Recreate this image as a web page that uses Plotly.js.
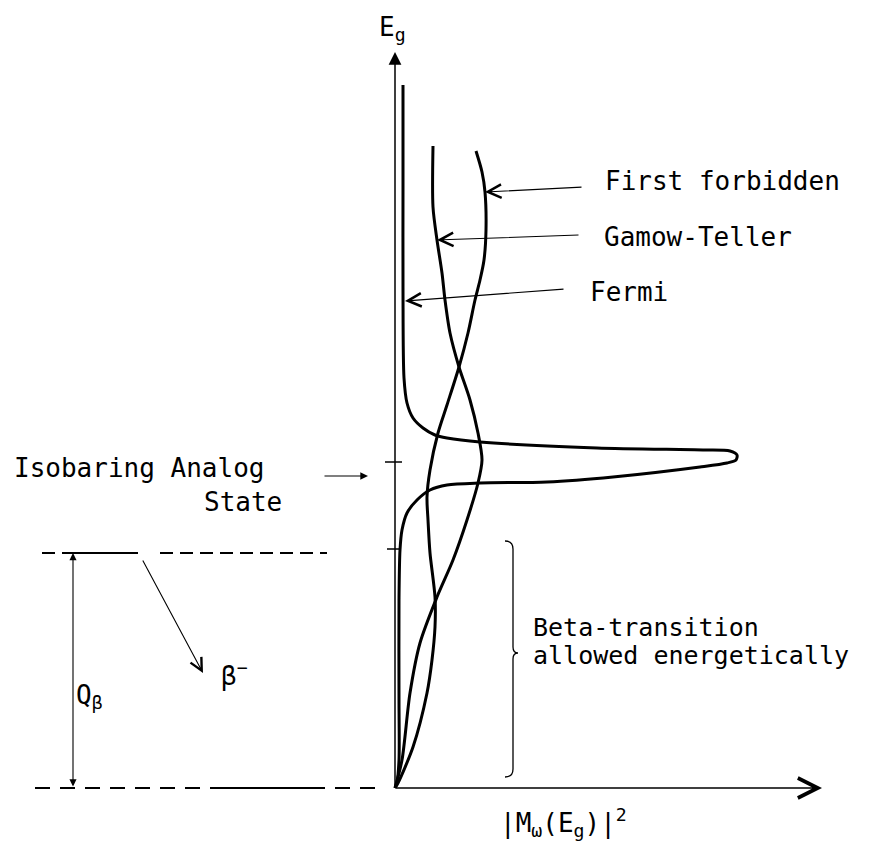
<!DOCTYPE html>
<html>
<head>
<meta charset="utf-8">
<script src="https://cdn.plot.ly/plotly-3.0.1.min.js"></script>
<style>
  html, body { margin: 0; padding: 0; background: #ffffff; }
  #chart { width: 877px; height: 841px; }
</style>
</head>
<body>
<div id="chart"></div>
<script>
// Schematic strength distributions |M(Eg)|^2 versus excitation energy Eg
// (arbitrary units; horizontal = strength, vertical = energy).

// Fermi strength: narrow spike at the isobaric analog state
const fermiM  = [8, 8, 8, 9, 12, 18, 28, 40, 52, 85, 202, 308, 335, 342, 341, 332, 305, 218, 152, 85, 52, 35, 22, 12, 7, 5, 4, 4, 4, 2, 0];
const fermiEg = [703, 600, 500, 410, 385, 370, 360, 353, 350, 346, 340, 338, 337, 333, 328, 325, 321, 311, 306, 305, 303, 298, 288, 275, 258, 238, 188, 88, 28, 6, 0];

// Gamow-Teller strength
const gtM  = [38, 38, 42, 47, 50, 55, 64, 75, 83, 87, 83, 72, 58, 42, 25, 15, 7, 0];
const gtEg = [642, 581, 548, 515, 488, 455, 421, 388, 355, 328, 305, 268, 228, 191, 145, 95, 28, 0];

// First forbidden strength
const ffM  = [81, 87, 90, 91, 89, 85, 80, 73, 64, 52, 43, 35, 32, 33, 35, 40, 40, 37, 32, 18, 3, 0];
const ffEg = [637, 616, 596, 558, 528, 508, 488, 455, 421, 383, 355, 318, 291, 268, 235, 191, 161, 128, 95, 41, 5, 0];

// Marked energies on the Eg axis
const iasEnergy = 326;   // isobaric analog state
const qBeta = 236;       // Q value of the beta decay

const curveLine = { color: '#000000', width: 3, shape: 'spline', smoothing: 0.8 };

const traces = [
  { x: fermiM, y: fermiEg, mode: 'lines', name: 'Fermi', line: curveLine, hoverinfo: 'skip' },
  { x: gtM, y: gtEg, mode: 'lines', name: 'Gamow-Teller', line: curveLine, hoverinfo: 'skip' },
  { x: ffM, y: ffEg, mode: 'lines', name: 'First forbidden', line: curveLine, hoverinfo: 'skip' }
];

const FONT = { family: 'DejaVu Sans Mono, monospace', size: 26, color: '#000000' };

function label(text, x, y, anchor, size) {
  return { text: text, x: x, y: y, xref: 'x', yref: 'y', showarrow: false,
           xanchor: anchor || 'left', yanchor: 'middle',
           font: Object.assign({}, FONT, size ? { size: size } : {}) };
}

function arrow(x, y, ax, ay, opts) {
  return Object.assign({
    text: '', x: x, y: y, ax: ax, ay: ay, xref: 'x', yref: 'y', axref: 'x', ayref: 'y',
    showarrow: true, arrowcolor: '#000000', arrowwidth: 1.1, arrowhead: 5, arrowsize: 2.4,
    standoff: 0, startstandoff: 0
  }, opts || {});
}

const annotations = [
  // axes
  arrow(0, 736, 0, 0, { arrowhead: 2, arrowwidth: 1.5, arrowsize: 1.7 }),
  arrow(427, 0, 0, 0, { arrowhead: 5, arrowwidth: 1.5, arrowsize: 2.6 }),
  label('E<sub>g</sub>', -18, 760),
  label('|M<sub>ω</sub>(E<sub>g</sub>)|<sup>2</sup>', 168, -34, 'center'),

  // curve labels
  arrow(90, 596, 188, 601),
  label('First forbidden', 208, 607),
  arrow(42, 548, 185, 553),
  label('Gamow-Teller', 207, 551),
  arrow(10, 487, 170, 499),
  label('Fermi', 193, 496),

  // isobaric analog state
  arrow(-27, 312, -72, 312, { arrowhead: 2, arrowwidth: 1.1, arrowsize: 1.4 }),
  label('Isobaring Analog', -383, 320),
  label('State', -193, 286),

  // Q value and decay
  arrow(-322, qBeta - 1, -322, 0, { arrowside: 'end+start', arrowhead: 2, arrowwidth: 1.1, arrowsize: 1.3 }),
  label('Q<sub>β</sub>', -321, 92),
  arrow(-192, 115, -253, 229, { arrowhead: 5, arrowwidth: 1.1, arrowsize: 2.2 }),
  label('β<sup>−</sup>', -176, 114),

  // energetically allowed window
  label('Beta-transition', 136, 161, 'left', 25),
  label('allowed energetically', 136, 133, 'left', 25)
];

const dashA = { color: '#000000', width: 2, dash: '13px,7px' };
const dashB = { color: '#000000', width: 2, dash: '15px,10px' };
const solid = { color: '#000000', width: 2 };
const thin = { color: '#000000', width: 1.5 };

const shapes = [
  // ticks on the Eg axis
  { type: 'line', xref: 'x', yref: 'y', x0: -10, x1: 7, y0: iasEnergy, y1: iasEnergy, line: thin },
  { type: 'line', xref: 'x', yref: 'y', x0: -8, x1: 5, y0: qBeta + 3, y1: qBeta + 3, line: thin },
  // parent level
  { type: 'line', xref: 'x', yref: 'y', x0: -353, x1: -322, y0: qBeta - 1, y1: qBeta - 1, line: dashA },
  { type: 'line', xref: 'x', yref: 'y', x0: -322, x1: -257, y0: qBeta - 1, y1: qBeta - 1, line: solid },
  { type: 'line', xref: 'x', yref: 'y', x0: -235, x1: -68, y0: qBeta - 1, y1: qBeta - 1, line: dashA },
  // ground level of the daughter
  { type: 'line', xref: 'x', yref: 'y', x0: -360, x1: -12, y0: 0, y1: 0, line: dashB },
  { type: 'line', xref: 'x', yref: 'y', x0: -173, x1: -77, y0: 0, y1: 0, line: solid },
  // curly brace over the allowed window
  { type: 'path', xref: 'x', yref: 'y', line: { color: '#000000', width: 1.3 },
    path: 'M 110,247 Q 118,247 118,239 L 118,141 Q 118,135 123,135 Q 118,135 118,129 L 118,19 Q 118,11 110,11' }
];

const layout = {
  width: 877, height: 841,
  margin: { l: 0, r: 0, t: 0, b: 0 },
  paper_bgcolor: '#ffffff', plot_bgcolor: '#ffffff',
  showlegend: false,
  xaxis: { range: [-395, 482], visible: false, fixedrange: true },
  yaxis: { range: [-53, 788], visible: false, fixedrange: true },
  annotations: annotations,
  shapes: shapes
};

Plotly.newPlot('chart', traces, layout, { staticPlot: true, displayModeBar: false });
</script>
</body>
</html>
